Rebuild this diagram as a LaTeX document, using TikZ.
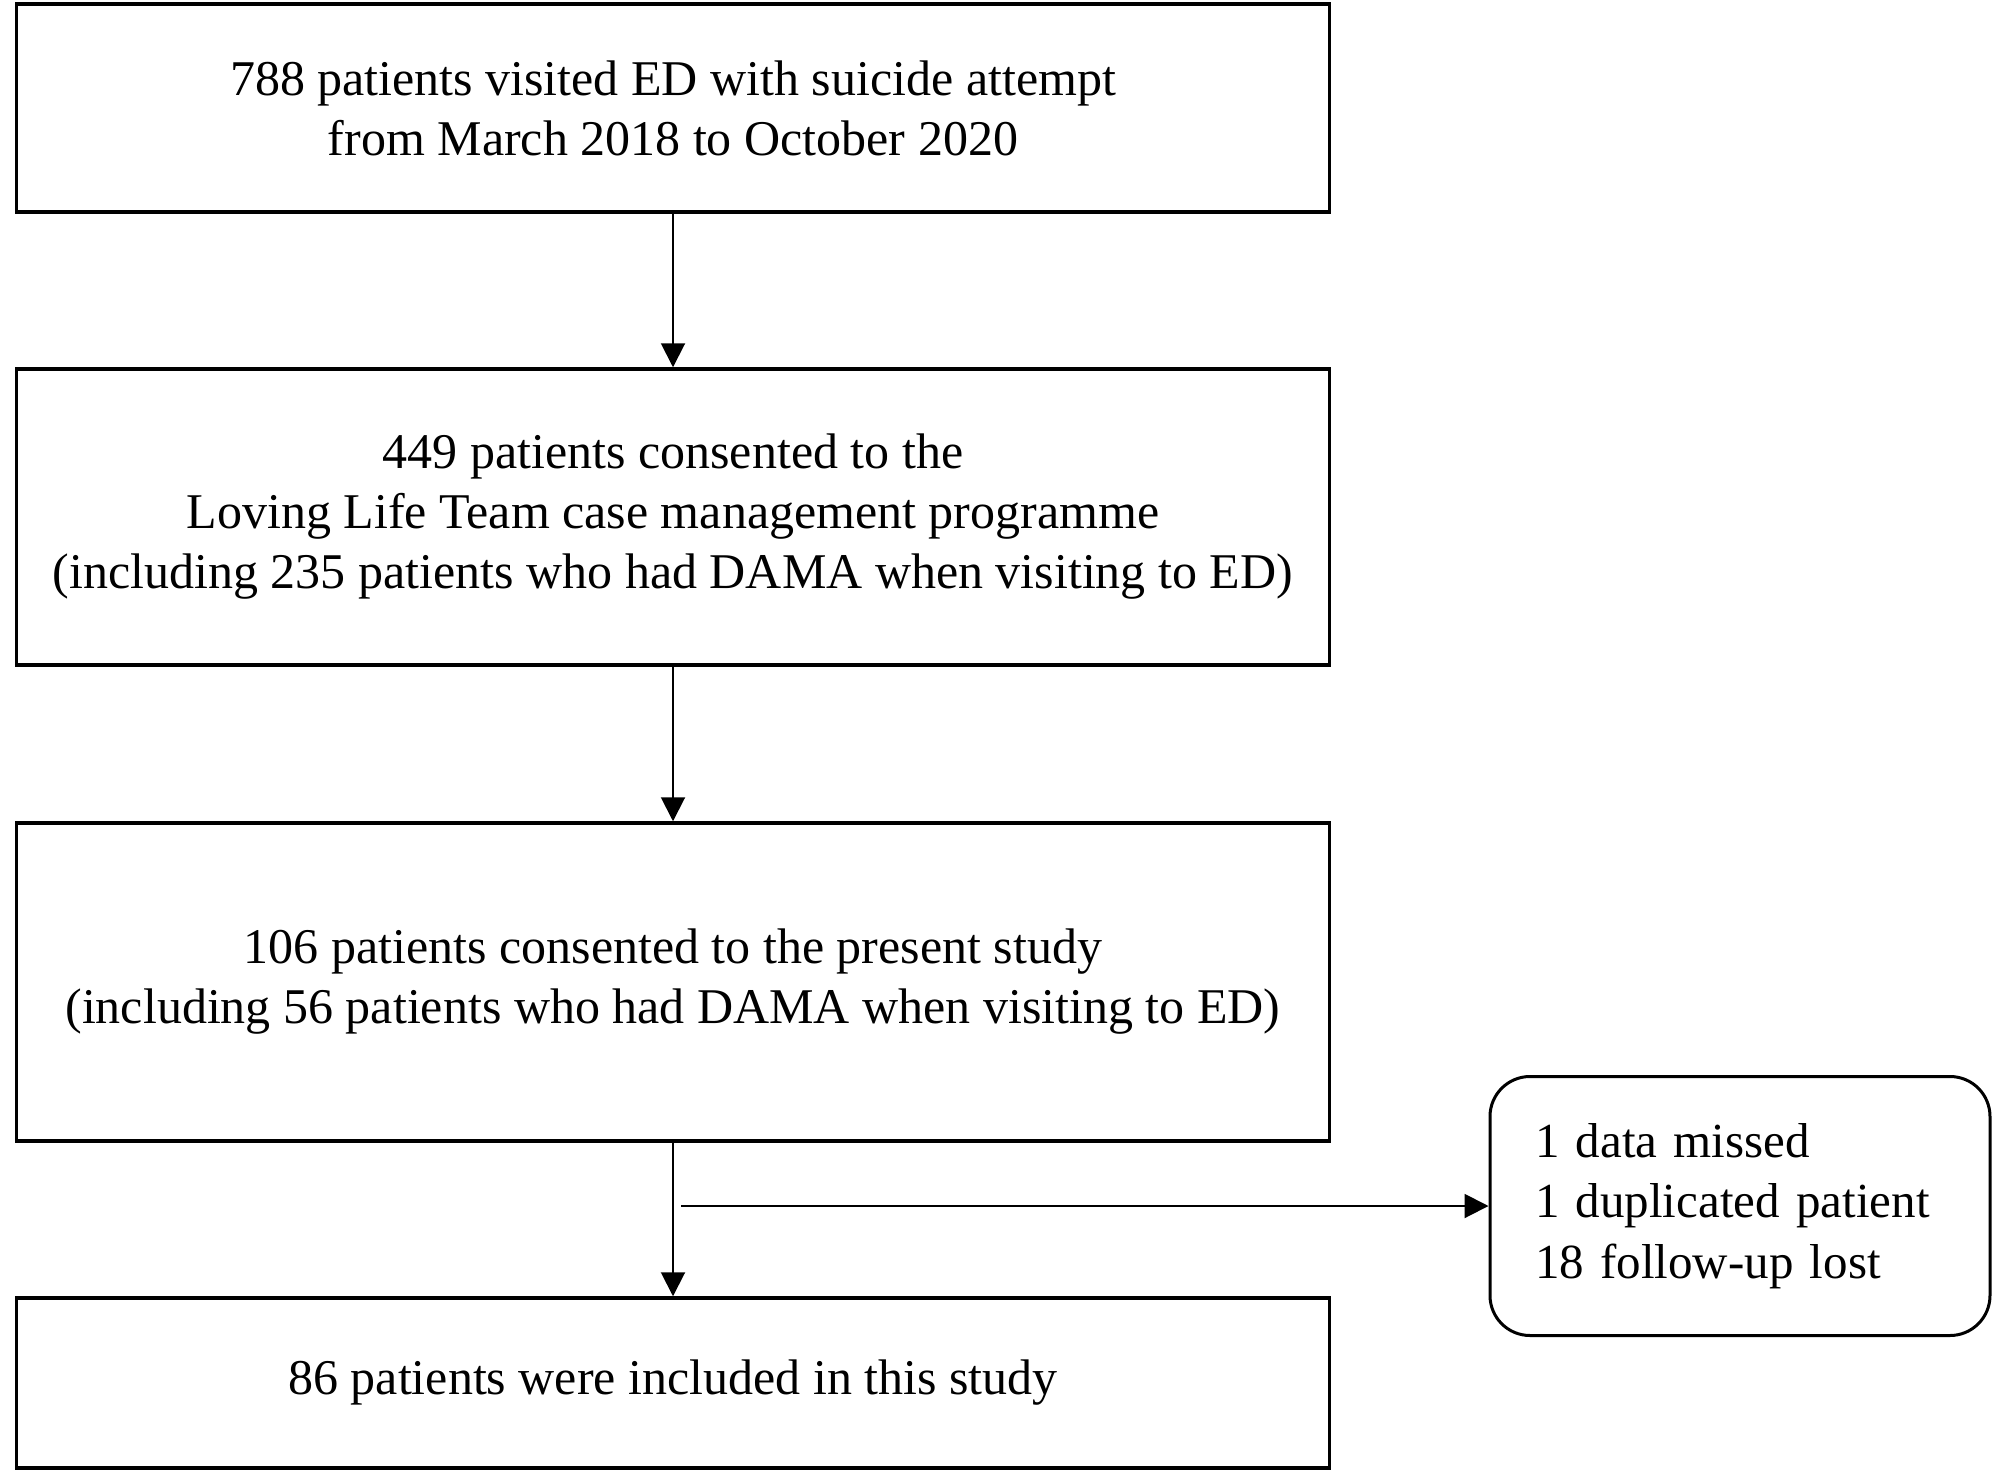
\documentclass[tikz,border=0pt]{standalone}
\usepackage{fontspec}
\setmainfont{Liberation Serif}
\usetikzlibrary{arrows.meta}
\begin{document}
\begin{tikzpicture}[x=1pt,y=-1pt,
  box/.style={draw,line width=3.5pt,minimum width=1313pt,align=center,inner sep=0pt,
    font=\fontsize{50}{60}\selectfont},
  sidebox/.style={draw,line width=3pt,rounded corners=40pt,minimum width=500pt,minimum height=259pt,
    text width=410pt,inner xsep=45pt,align=left,font=\fontsize{49}{60.5}\selectfont},
  arr/.style={line width=2pt,-{Triangle[length=24pt,width=24pt]}}]
\useasboundingbox (0,0) rectangle (2006,1483);
\node[box,minimum height=208pt] (b1) at (673,108) {788 patients visited ED with suicide attempt\\from March 2018 to October 2020};
\node[box,minimum height=296pt] (b2) at (673,517) {449 patients consented to the\\Loving Life Team case management programme\\(including 235 patients who had DAMA when visiting to ED)};
\node[box,minimum height=318pt] (b3) at (673,982) {106 patients consented to the present study\\(including 56 patients who had DAMA when visiting to ED)};
\node[box,minimum height=170pt] (b4) at (673,1383) {86 patients were included in this study};
\node[sidebox] (s) at (1740,1206) {1 data missed\\1 duplicated patient\\18 follow-up lost};
\coordinate (c) at (681,1206);
\draw[arr] (b1.south) -- (b2.north);
\draw[arr] (b2.south) -- (b3.north);
\draw[arr] (b3.south) -- (b4.north);
\draw[arr] (c) -- (s.west);
\end{tikzpicture}
\end{document}
